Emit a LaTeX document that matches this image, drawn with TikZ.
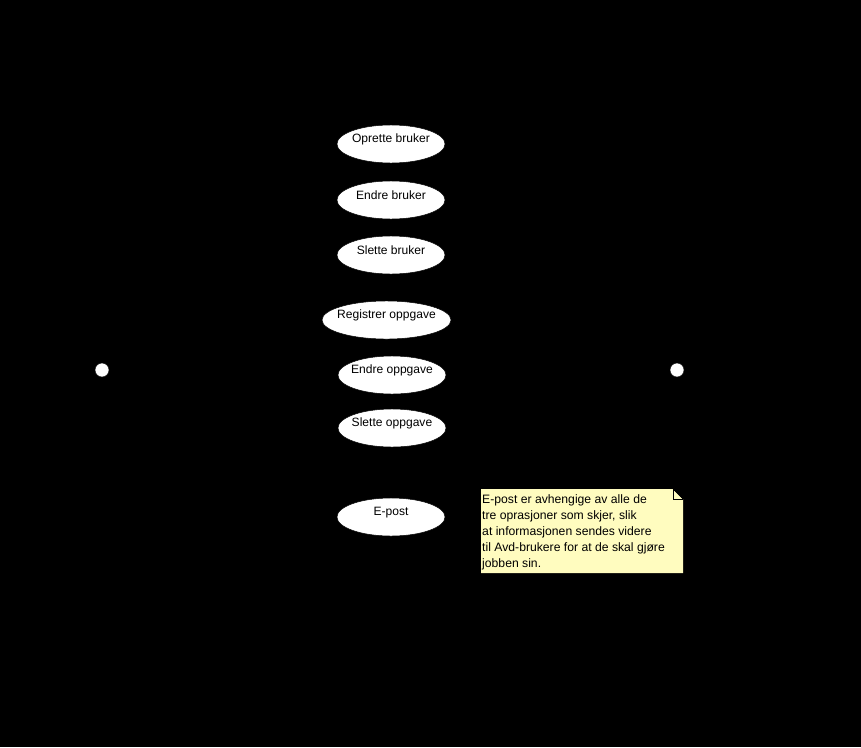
\documentclass[tikz,border=0pt]{standalone}
\usepackage{fontspec}
\setmainfont{Liberation Sans}
\usetikzlibrary{shapes.geometric}

\tikzset{
  usecase/.style={ellipse, draw=black, fill=white, minimum width=3.24cm,
    minimum height=1.14cm, inner sep=0pt,
    label={[font=\fontsize{10.3}{12}\selectfont, yshift=0.13cm]center:#1}},
  actorhead/.style={circle, draw=black, fill=white, minimum size=0.42cm, inner sep=0pt},
}

\begin{document}
\begin{tikzpicture}[x=0.03cm, y=-0.03cm]
  %bakgrunn
  \fill[black] (0,0) rectangle (861,747);
  \useasboundingbox (0,0) rectangle (861,747);

  %aktorer
  \node[actorhead] (adminHead) at (102,370) {};
  \node[actorhead] (avdHead) at (677,370) {};

  %brukstilfeller
  \node[usecase={Oprette bruker}] (oppretteBruker) at (391,144) {};
  \node[usecase={Endre bruker}] (endreBruker) at (391,200) {};
  \node[usecase={Slette bruker}] (sletteBruker) at (391,255) {};
  \node[usecase={Registrer oppgave}, minimum width=3.87cm] (regOppgave) at (386.5,320) {};
  \node[usecase={Endre oppgave}] (endreOppgave) at (392,375) {};
  \node[usecase={Slette oppgave}] (sletteOppgave) at (392,428) {};
  \node[usecase={E-post}] (epost) at (391,517) {};

  %notat
  \fill[yellow!25!white] (481,489) -- (673,489) -- (683,499) -- (683,573) -- (481,573) -- cycle;
  \draw[black] (673,489) -- (673,499) -- (683,499);
  \fill[black] (673,489) -- (683,499) -- (683,489) -- cycle;
  \draw[black] (673,489) -- (683,499);
  \node[anchor=north west, align=left, inner sep=0pt,
        font=\fontsize{10.4}{13.8}\selectfont] (notat) at (482,494)
    {E-post er avhengige av alle de\\
     tre oprasjoner som skjer, slik\\
     at informasjonen sendes videre\\
     til Avd-brukere for at de skal gjøre\\
     jobben sin.};
\end{tikzpicture}
\end{document}
